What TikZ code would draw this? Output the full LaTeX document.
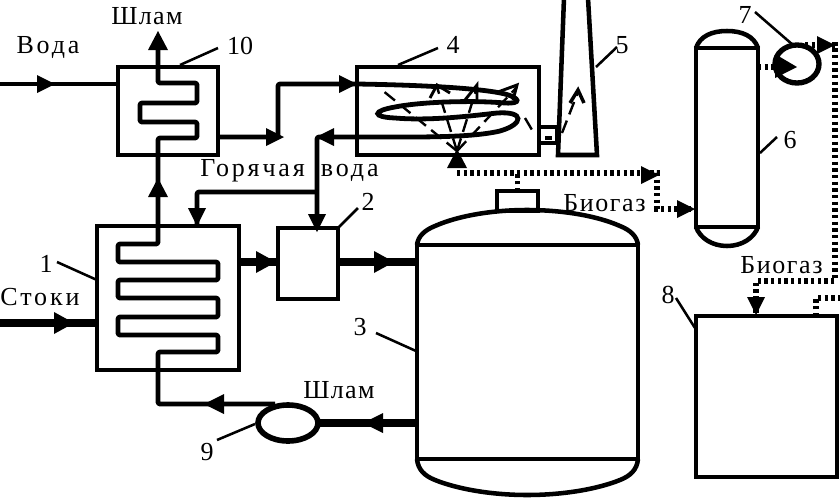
\documentclass[tikz,border=0pt]{standalone}
\usepackage{fontspec}
\setmainfont{Liberation Serif}
\newfontfamily\widefont[LetterSpace=11]{Liberation Serif}
\newfontfamily\midfont[LetterSpace=5]{Liberation Serif}
\newfontfamily\gasfont[LetterSpace=6]{Liberation Serif}
\usetikzlibrary{calc,shapes.geometric}
\def\px{0.75pt}
\tikzset{
  x=0.75pt,y=-0.75pt,
  pipe/.style={line width=3.6pt,line join=round,rounded corners=1.5pt},
  thick pipe/.style={line width=5.4pt},
  wall/.style={line width=3.4pt,line join=miter},
  box/.style={draw,wall,rectangle,inner sep=0pt,outer sep=0pt},
  leader/.style={line width=1.9pt},
  gas/.style={line width=3.9pt,dash pattern=on 2.6pt off 2.4pt},
  flame/.style={line width=1.8pt,dash pattern=on 10pt off 5pt},
  lbl/.style={font=\fontsize{19.5pt}{22pt}\selectfont,inner sep=0pt},
  mlbl/.style={font=\fontsize{19.5pt}{22pt}\selectfont\midfont,inner sep=0pt},
  wlbl/.style={font=\fontsize{19.5pt}{22pt}\selectfont\widefont,inner sep=0pt},
  glbl/.style={font=\fontsize{19.5pt}{22pt}\selectfont\gasfont,inner sep=0pt},
  tipr/.pic={\fill (0,0)--(-18,-9)--(-18,9)--cycle;},
  tipl/.pic={\fill (0,0)--(18,-9)--(18,9)--cycle;},
  tipu/.pic={\fill (0,0)--(-10,19)--(10,19)--cycle;},
  tipdn/.pic={\fill (0,0)--(-9,-18)--(9,-18)--cycle;},
  bigr/.pic={\fill (0,0)--(-20,-11)--(-20,11)--cycle;},
  bigl/.pic={\fill (0,0)--(20,-10)--(20,10)--cycle;},
}
\begin{document}
\begin{tikzpicture}
\useasboundingbox (0,0) rectangle (840,497);
% boxes
\node[box,minimum width=100*\px,minimum height=88*\px] (b10) at (168,111) {};
\node[box,minimum width=142*\px,minimum height=144*\px] (b1) at (168,298) {};
\node[box,minimum width=60*\px,minimum height=71*\px] (b2) at (308,263.5) {};
\node[box,minimum width=182*\px,minimum height=88*\px] (b4) at (448,111) {};
\node[box,minimum width=18*\px,minimum height=16*\px] (b45) at (548,135) {};
\node[box,minimum width=41*\px,minimum height=20*\px] (noz) at (517.5,201) {};
\node[box,minimum width=141*\px,minimum height=161*\px] (b8) at (766.5,396.5) {};
% stack
\coordinate (s1) at (564,-2); \coordinate (s2) at (558,155);
\coordinate (s3) at (597,155); \coordinate (s4) at (588,-2);
\draw[wall] (s1)--(s2)--(s3)--(s4);
% tank 3
\coordinate (t1) at (417,245); \coordinate (t2) at (638,245);
\coordinate (t3) at (638,459); \coordinate (t4) at (417,459);
\draw[wall] (t1)--(t2)--(t3)--(t4)--cycle;
\draw[wall] (t1) .. controls (418,236) and (425,230) .. (435,226) .. controls (460,215) and (495,210) .. (527,210) .. controls (560,210) and (595,215) .. (620,226) .. controls (630,230) and (637,236) .. (t2);
\draw[wall] (t4) .. controls (418,470) and (425,476) .. (435,480) .. controls (460,490) and (495,495) .. (527,495) .. controls (560,495) and (595,490) .. (620,480) .. controls (630,476) and (637,470) .. (t3);
% column 6
\coordinate (c1) at (696,48); \coordinate (c2) at (758,48);
\coordinate (c3) at (758,227); \coordinate (c4) at (696,227);
\draw[wall] (c1)--(c2)--(c3)--(c4)--cycle;
\draw[wall] (c1) .. controls (700,36) and (712,31) .. (727,31) .. controls (742,31) and (754,36) .. (c2);
\draw[wall] (c4) .. controls (700,238) and (712,246) .. (727,246) .. controls (742,246) and (754,238) .. (c3);
% pumps
\node[draw,line width=4pt,ellipse,minimum width=44*\px,minimum height=38*\px,inner sep=0pt,outer sep=0pt] (p7) at (797,64) {};
\node[draw,line width=4.2pt,ellipse,minimum width=60*\px,minimum height=36*\px,inner sep=0pt,outer sep=0pt] (p9) at (288,423) {};
\fill (775,54)--(797,67)--(775,78)--cycle;
% coil 10 and its through-line
\coordinate (sl) at (158,40);
\draw[pipe] (sl)--(158,83)--(197,83)--(197,103)--(140,103)--(140,122)--(197,122)--(197,138)--(158,138)--(158,244)--(118,244)--(118,262)--(218,262)--(218,280)--(118,280)--(118,298)--(218,298)--(218,317)--(118,317)--(118,335)--(218,335)--(218,352)--(158,352)--(158,404)--(275,404);
\pic at (158,31) {tipu};
\pic at (158,178) {tipu};
\pic at (204,404) {bigl};
% water in
\coordinate (w0) at (0,84);
\draw[pipe] (w0)--(b10.west |- w0);
\pic at (55,84) {tipr};
% water out of 10 to 4
\coordinate (w1) at (278,137); \coordinate (w2) at (278,84);
\draw[pipe] (b10.east |- w1)--(w1)--(w2)--(b4.west |- w2);
\pic at (284,137) {tipr};
\pic at (357,84) {tipr};
% coil in 4
\draw[line width=3.6pt] (b4.west |- w2) .. controls (420,85) and (480,88) .. (505,94) .. controls (520,98) and (522,104) .. (505,103) .. controls (470,100) and (420,102) .. (395,107) .. controls (372,111) and (372,117) .. (395,118) .. controls (430,121) and (470,116) .. (497,113) .. controls (525,111) and (524,124) .. (500,131) .. controls (470,138) and (420,137) .. (b4.west |- 0,137);
% hot water
\coordinate (h1) at (317,137); \coordinate (h2) at (317,192); \coordinate (h3) at (197,192);
\draw[pipe] (b4.west |- h1)--(h1)--(h2)--(h2 |- b2.north);
\draw[pipe] (h2)--(h3)--(h3 |- b1.north);
\pic at (316,137) {tipl};
\pic at (317,232) {tipdn};
\pic at (197,226) {tipdn};
% sewage and feed
\coordinate (st) at (0,323);
\draw[thick pipe] (st)--(b1.west |- st);
\pic at (74,323) {bigr};
\coordinate (f) at (0,262);
\draw[thick pipe] (b1.east |- f)--(b2.west |- f);
\draw[thick pipe] (b2.east |- f)--(t1 |- f);
\pic at (276,262) {bigr};
\pic at (394,262) {bigr};
% sludge
\draw[thick pipe] (p9.east)--(t1 |- p9);
\pic at (363,423) {bigl};
% burner and flames
\pic at (457,149) {tipu};
\coordinate (bn) at (457,151);
\draw[flame] (bn)--(382,90);
\draw[flame] (bn)--(437,87);
\draw[flame] (bn)--(477,87);
\draw[flame] (bn)--(517,87);
\draw[line width=2.2pt] (430,98)--(437,85)--(450,93) (465,100)--(477,85)--(477,100) (498,92)--(517,85)--(513,100);
\draw[flame] (525,118)--(535,135);
\draw[line width=3pt] (545,138)--(552,138);
\draw[flame] (562,133)--(578,92);
\draw[line width=2.6pt] (570,103)--(578,90)--(584,103);
% gas lines
\coordinate (g0) at (457,173); \coordinate (g1) at (657,173); \coordinate (g2) at (657,209);
\draw[gas] (g0)--(g1)--(g2)--(c1 |- g2);
\draw[gas] (noz.north)--(noz.north |- g0);
\pic at (659,175) {tipr};
\pic at (695,209) {tipr};
\coordinate (g3) at (775,67); \draw[gas] (c2 |- g3)--(g3);
\coordinate (g4) at (835,45); \coordinate (g5) at (835,281); \coordinate (g6) at (756,281);
\draw[gas] (805,45)--(g4)--(g5)--(g6)--(g6 |- b8.north);
\pic at (835,45) {tipr};
\pic at (756,315) {tipdn};
\coordinate (g7) at (816,298);
\draw[gas] (g7 |- b8.north)--(g7)--(840,298);
% leaders and numbers
\node[lbl] (n10) at (240,46) {10};
\draw[leader] (180,65)--(218,48);
\node[lbl] (n4) at (453,45) {4};
\draw[leader] (398,65)--(438,48);
\node[lbl] (n5) at (622,45) {5};
\draw[leader] (596,67)--(617,47);
\node[lbl] (n7) at (745,15) {7};
\draw[leader] (755,12)--(793,45);
\node[lbl] (n6) at (790,140) {6};
\draw[leader] (760,153)--(777,137);
\node[lbl] (n8) at (668,295) {8};
\draw[leader] (676,298)--(695,328);
\node[lbl] (n1) at (46,264) {1};
\draw[leader] (57,262)--(97,280);
\node[lbl] (n3) at (360,327) {3};
\draw[leader] (376,333)--(416,351);
\node[lbl] (n9) at (207,452) {9};
\draw[leader] (217,440)--(255,424);
\node[lbl] (n2) at (368,202) {2};
\draw[leader] (338,228)--(358,208);
% texts
\node[mlbl] (t_a) at (147,16) {Шлам};
\node[wlbl] (t_b) at (48,47) {Вода};
\node[wlbl] (t_c) at (289.5,171) {Горячая\hspace{5pt} вода};
\node[wlbl] (t_d) at (40,297) {Стоки};
\node[mlbl] (t_e) at (339,390) {Шлам};
\node[glbl] (t_f) at (604.5,203) {Биогаз};
\node[glbl] (t_g) at (781.5,265) {Биогаз};
\end{tikzpicture}
\end{document}
